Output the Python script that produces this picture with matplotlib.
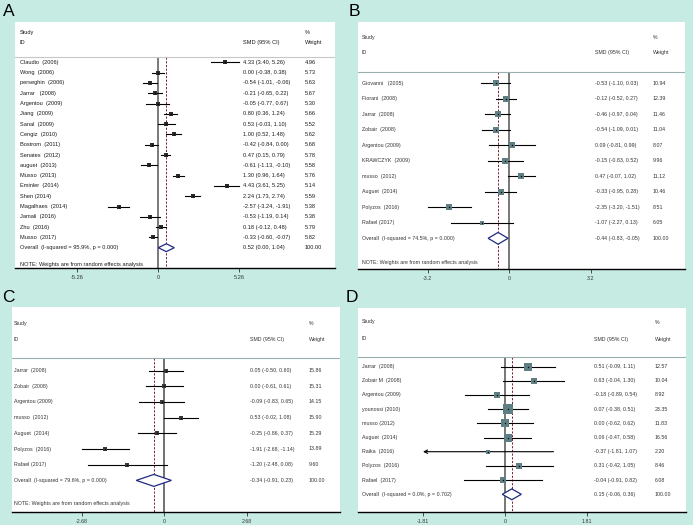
import matplotlib
matplotlib.use("Agg")
import matplotlib.pyplot as plt
import numpy as np

plt.rcParams['font.family'] = ['Liberation Sans', 'DejaVu Sans']

W, H = 693, 525
BG = '#c6ebe3'

# ---------------- Data ----------------
a_studies = ["Claudio  (2006)", "Wong  (2006)", "perseghin  (2006)", "Jarrar   (2008)", "Argentou  (2009)",
             "Jiang  (2009)", "Sanal  (2009)", "Cengiz  (2010)", "Bostrom  (2011)", "Senates  (2012)",
             "auguet  (2013)", "Musso  (2013)", "Eminler  (2014)", "Shen (2014)", "Magalhaes  (2014)",
             "Jamali  (2016)", "Zhu  (2016)", "Musso  (2017)"]
a_smd = [4.33, 0.00, -0.54, -0.21, -0.05, 0.80, 0.53, 1.00, -0.42, 0.47, -0.61, 1.30, 4.43, 2.24, -2.57, -0.53, 0.18, -0.33]
a_lo = [3.40, -0.38, -1.01, -0.65, -0.77, 0.36, -0.03, 0.52, -0.84, 0.15, -1.13, 0.96, 3.61, 1.73, -3.24, -1.19, -0.12, -0.60]
a_hi = [5.26, 0.38, -0.06, 0.22, 0.67, 1.24, 1.10, 1.48, 0.00, 0.79, -0.10, 1.64, 5.25, 2.74, -1.91, 0.14, 0.48, -0.07]
a_wt = [4.96, 5.73, 5.63, 5.67, 5.30, 5.66, 5.52, 5.62, 5.68, 5.78, 5.58, 5.76, 5.14, 5.59, 5.38, 5.38, 5.79, 5.82]
a_overall = (0.52, 0.00, 1.04)
a_overall_label = "Overall  (I-squared = 95.9%, p = 0.000)"
a_ticks = [-5.26, 0, 5.26]
a_ticklabels = ["-5.26", "0", "5.26"]

b_studies = ["Giovanni   (2005)", "Fiorani  (2008)", "Jarrar  (2008)", "Zobair  (2008)", "Argentou (2009)",
             "KRAWCZYK  (2009)", "musso  (2012)", "Auguet  (2014)", "Polyzos  (2016)", "Rafael (2017)"]
b_smd = [-0.53, -0.12, -0.46, -0.54, 0.09, -0.15, 0.47, -0.33, -2.35, -1.07]
b_lo = [-1.10, -0.52, -0.97, -1.09, -0.81, -0.83, -0.07, -0.95, -3.20, -2.27]
b_hi = [0.03, 0.27, 0.04, 0.01, 0.99, 0.52, 1.02, 0.28, -1.51, 0.13]
b_wt = [10.94, 12.39, 11.46, 11.04, 8.07, 9.96, 11.12, 10.46, 8.51, 6.05]
b_overall = (-0.44, -0.83, -0.05)
b_overall_label = "Overall  (I-squared = 74.5%, p = 0.000)"
b_ticks = [-3.2, 0, 3.2]
b_ticklabels = ["-3.2", "0", "3.2"]

c_studies = ["Jarrar  (2008)", "Zobair  (2008)", "Argentou (2009)", "musso  (2012)", "Auguet  (2014)",
             "Polyzos  (2016)", "Rafael (2017)"]
c_smd = [0.05, 0.00, -0.09, 0.53, -0.25, -1.91, -1.20]
c_lo = [-0.50, -0.61, -0.83, -0.02, -0.86, -2.68, -2.48]
c_hi = [0.60, 0.61, 0.65, 1.08, 0.37, -1.14, 0.08]
c_wt = [15.86, 15.31, 14.15, 15.90, 15.29, 13.89, 9.60]
c_overall = (-0.34, -0.91, 0.23)
c_overall_label = "Overall  (I-squared = 79.6%, p = 0.000)"
c_ticks = [-2.68, 0, 2.68]
c_ticklabels = ["-2.68", "0", "2.68"]

d_studies = ["Jarrar  (2008)", "Zobair M  (2008)", "Argentou (2009)", "younossi (2010)", "musso (2012)",
             "Auguet  (2014)", "Raika  (2016)", "Polyzos  (2016)", "Rafael  (2017)"]
d_smd = [0.51, 0.63, -0.18, 0.07, 0.00, 0.06, -0.37, 0.31, -0.04]
d_lo = [-0.09, -0.04, -0.89, -0.38, -0.62, -0.47, -1.81, -0.42, -0.91]
d_hi = [1.11, 1.30, 0.54, 0.51, 0.62, 0.58, 1.07, 1.05, 0.82]
d_wt = [12.57, 10.04, 8.92, 23.35, 11.83, 16.56, 2.20, 8.46, 6.08]
d_overall = (0.15, -0.06, 0.36)
d_overall_label = "Overall  (I-squared = 0.0%, p = 0.702)"
d_ticks = [-1.81, 0, 1.81]
d_ticklabels = ["-1.81", "0", "1.81"]

fig = plt.figure(figsize=(W / 100, H / 100), dpi=100, facecolor=BG)


def fmt_ci(e, l, h):
    return f"{e:.2f} ({l:.2f}, {h:.2f})"


def panel(letter, letter_xy, box, x0, ppu, row0, sp, header_y, sep_y, note_y, col_x,
          studies, smd, lo, hi, wt, overall, overall_label, ticks, ticklabels,
          fs, sq_color, sq_k, zero_color, zero_lw, sep_color, txt_color, arrow_min=None):
    L, T, R, B = box
    ax = fig.add_axes([L / W, 1 - B / H, (R - L) / W, (B - T) / H])
    ax.set_facecolor('white')
    ax.set_xlim((L - x0) / ppu, (R - x0) / ppu)
    ax.set_ylim((B - row0) / sp, (T - row0) / sp)
    for s in ['top', 'left', 'right']:
        ax.spines[s].set_visible(False)
    ax.spines['bottom'].set_linewidth(1.0)
    ax.spines['bottom'].set_color('black')
    ax.set_yticks([])
    ax.set_xticks(ticks)
    ax.set_xticklabels(ticklabels)
    ax.tick_params(axis='x', length=3, width=0.6, labelsize=fs, pad=2, colors='#333333')

    def ry(py):
        return (py - row0) / sp

    def fx(px):
        return (px - L) / (R - L)

    tr = ax.get_yaxis_transform()  # x axes-fraction, y data
    # header
    ax.text(fx(col_x[0]), ry(header_y[0]), "Study", transform=tr, fontsize=fs, va='center', ha='left', color=txt_color)
    ax.text(fx(col_x[0]), ry(header_y[1]), "ID", transform=tr, fontsize=fs, va='center', ha='left', color=txt_color)
    ax.text(fx(col_x[1]), ry(header_y[1]), "SMD (95% CI)", transform=tr, fontsize=fs, va='center', ha='left', color=txt_color)
    ax.text(fx(col_x[2]), ry(header_y[0]), "%", transform=tr, fontsize=fs, va='center', ha='left', color=txt_color)
    ax.text(fx(col_x[2]), ry(header_y[1]), "Weight", transform=tr, fontsize=fs, va='center', ha='left', color=txt_color)
    ax.axhline(ry(sep_y), color=sep_color, lw=0.8)

    n = len(studies)
    rows = np.arange(n)
    ytop = ry(sep_y)
    ybot = (B - row0) / sp
    # zero line and overall dashed line
    ax.plot([0, 0], [ytop, ybot], color=zero_color, lw=zero_lw, solid_capstyle='butt', zorder=1)
    ax.plot([overall[0], overall[0]], [ytop, ybot], color='#7a1c2a', lw=0.7, ls=(0, (2.2, 1.6)), zorder=1)

    for i in range(n):
        if arrow_min is not None and lo[i] <= arrow_min:
            ax.annotate('', xy=(arrow_min, rows[i]), xytext=(hi[i], rows[i]),
                        arrowprops=dict(arrowstyle='->', lw=0.8, color='black', mutation_scale=6,
                                        shrinkA=0, shrinkB=0), zorder=2)
        else:
            ax.plot([lo[i], hi[i]], [rows[i], rows[i]], color='black', lw=0.8, zorder=2)
        ax.plot(smd[i], rows[i], marker='s', ms=sq_k * np.sqrt(wt[i]), color=sq_color,
                mec=sq_color, mew=0, zorder=3)
        ax.plot(smd[i], rows[i], marker='o', ms=1.0, color='black', mew=0, zorder=4)
        ax.text(fx(col_x[0]), rows[i], studies[i], transform=tr, fontsize=fs, va='center', ha='left', color=txt_color)
        ax.text(fx(col_x[1]), rows[i], fmt_ci(smd[i], lo[i], hi[i]), transform=tr, fontsize=fs,
                va='center', ha='left', color=txt_color)
        ax.text(fx(col_x[2]), rows[i], f"{wt[i]:.2f}", transform=tr, fontsize=fs, va='center', ha='left', color=txt_color)

    # overall diamond
    e, l, h = overall
    hh = 0.38
    ax.fill([l, e, h, e, l], [n, n - hh, n, n + hh, n], facecolor='white', edgecolor='#1f2a80', lw=0.9, zorder=3)
    ax.text(fx(col_x[0]), n, overall_label, transform=tr, fontsize=fs, va='center', ha='left', color=txt_color)
    ax.text(fx(col_x[1]), n, fmt_ci(e, l, h), transform=tr, fontsize=fs, va='center', ha='left', color=txt_color)
    ax.text(fx(col_x[2]), n, "100.00", transform=tr, fontsize=fs, va='center', ha='left', color=txt_color)
    if note_y is not None:
        ax.text(fx(col_x[0]), ry(note_y), "NOTE: Weights are from random effects analysis", transform=tr,
                fontsize=fs, va='center', ha='left', color=txt_color)

    fig.text(letter_xy[0] / W, 1 - letter_xy[1] / H, letter, fontsize=12.5, ha='center', va='center', color='black')
    return ax


panel("A", (8.5, 11.5), (15, 22, 335, 268), 158.3, 15.4, 62.3, 10.3, (32, 42.3), 56.5, 264,
      (20, 243, 305), a_studies, a_smd, a_lo, a_hi, a_wt, a_overall, a_overall_label, a_ticks, a_ticklabels,
      fs=4.1, sq_color='#2a2a2a', sq_k=1.05, zero_color='#555555', zero_lw=1.1, sep_color='#c8c8c8',
      txt_color='#1a1a1a')

panel("B", (354, 11.5), (358, 22, 685, 269), 509.3, 25.5, 83.3, 15.5, (37.7, 52.3), 71.7, 262.5,
      (362, 595, 653), b_studies, b_smd, b_lo, b_hi, b_wt, b_overall, b_overall_label, b_ticks, b_ticklabels,
      fs=3.8, sq_color='#5f7f84', sq_k=1.3, zero_color='#777777', zero_lw=1.4, sep_color='#9aaeb0',
      txt_color='#333333')

panel("C", (8, 297.5), (12, 307, 340, 512), 164.3, 30.8, 370.5, 15.7, (323.3, 339.5), 358, 503.5,
      (14, 250, 309), c_studies, c_smd, c_lo, c_hi, c_wt, c_overall, c_overall_label, c_ticks, c_ticklabels,
      fs=3.8, sq_color='#3a3a3a', sq_k=0.75, zero_color='#666666', zero_lw=1.3, sep_color='#9aaeb0',
      txt_color='#333333')

panel("D", (351.5, 297.5), (358, 308, 686, 512), 505, 45.3, 366.5, 14.2, (322, 339), 357, None,
      (362, 594, 655), d_studies, d_smd, d_lo, d_hi, d_wt, d_overall, d_overall_label, d_ticks, d_ticklabels,
      fs=3.8, sq_color='#5f7f84', sq_k=1.5, zero_color='#777777', zero_lw=1.4, sep_color='#9aaeb0',
      txt_color='#333333', arrow_min=-1.81)

fig.savefig("out.png", dpi=100, facecolor=BG)
